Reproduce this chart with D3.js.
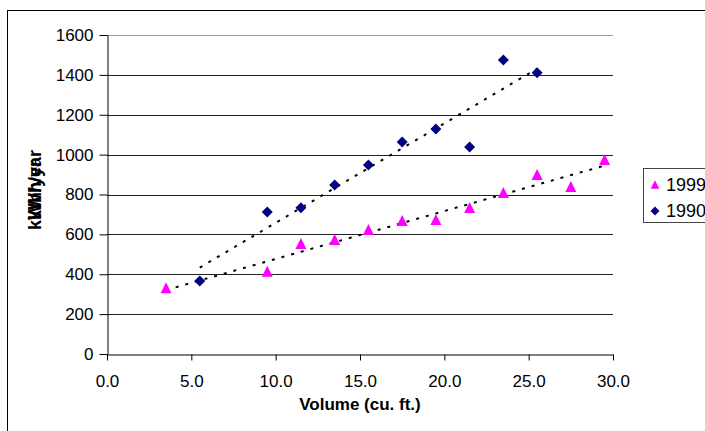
<!DOCTYPE html>
<html>
<head>
<meta charset="utf-8">
<script src="https://cdn.jsdelivr.net/npm/d3@7/dist/d3.min.js"></script>
<style>
  html, body { margin: 0; padding: 0; background: #fff; }
  svg { display: block; font-family: "Liberation Sans", Arial, sans-serif; }
</style>
</head>
<body>
<svg id="chart" width="705" height="431"></svg>
<script>
// Refrigerator energy use vs. volume, two survey years
const volume1999 = [3.5, 9.5, 11.5, 13.5, 15.5, 17.5, 19.5, 21.5, 23.5, 25.5, 27.5, 29.5];
const kwh1999    = [330, 412, 552, 572, 622, 667, 672, 732, 807, 898, 837, 973];
const volume1990 = [5.5, 9.5, 11.5, 13.5, 15.5, 17.5, 19.5, 21.5, 23.5, 25.5];
const kwh1990    = [366, 712, 733, 848, 948, 1063, 1128, 1038, 1474, 1411];
const xTicks = [0, 5, 10, 15, 20, 25, 30];
const yTicks = [0, 200, 400, 600, 800, 1000, 1200, 1400, 1600];
const seriesNames = ["1999", "1990"];

const svg = d3.select("#chart");
const plot = { left: 107, right: 613, top: 35, bottom: 354 };

const x = d3.scaleLinear().domain([0, 30]).range([plot.left, plot.right]);
const y = d3.scaleLinear().domain([0, 1600]).range([plot.bottom, plot.top]);

// outer chart frame
svg.append("rect")
  .attr("x", 7.5).attr("y", 10.5)
  .attr("width", 720).attr("height", 440)
  .attr("fill", "none").attr("stroke", "#000").attr("stroke-width", 1);

// horizontal gridlines
svg.append("g")
  .selectAll("line")
  .data(yTicks.filter(d => d > 0))
  .join("line")
  .attr("x1", plot.left).attr("x2", plot.right)
  .attr("y1", d => Math.round(y(d)) + 0.5).attr("y2", d => Math.round(y(d)) + 0.5)
  .attr("stroke", d => d === 1600 ? "#999" : "#222")
  .attr("stroke-width", 1);

// y axis
const yAxis = svg.append("g")
  .attr("transform", `translate(${plot.left + 0.5},0)`)
  .call(d3.axisLeft(y).tickValues(yTicks).tickFormat(d3.format("d"))
    .tickSize(8).tickPadding(6).tickSizeOuter(0));
yAxis.selectAll("text").attr("font-size", 17).attr("fill", "#000")
  .attr("font-family", "Liberation Sans, Arial, sans-serif");
yAxis.selectAll("line, path").attr("stroke", "#000");

// x axis
const xAxis = svg.append("g")
  .attr("transform", `translate(0,${plot.bottom + 0.5})`)
  .call(d3.axisBottom(x).tickValues(xTicks).tickFormat(d3.format(".1f"))
    .tickSize(6).tickPadding(14).tickSizeOuter(0));
xAxis.selectAll("text").attr("font-size", 17).attr("fill", "#000")
  .attr("font-family", "Liberation Sans, Arial, sans-serif");
xAxis.selectAll("line, path").attr("stroke", "#000");

// axis titles
svg.append("text")
  .attr("x", (plot.left + plot.right) / 2).attr("y", 410)
  .attr("text-anchor", "middle")
  .attr("font-size", 17).attr("font-weight", "bold")
  .text("Volume (cu. ft.)");

// two overprinted y titles
["kWh/year", "kWh/yr"].forEach(t => {
  svg.append("text")
    .attr("transform", "translate(41,190) rotate(-90)")
    .attr("text-anchor", "middle")
    .attr("font-size", 18).attr("font-weight", "bold")
    .text(t);
});

// least-squares trendline through a series
function fit(xs, ys) {
  const mx = d3.mean(xs), my = d3.mean(ys);
  const sxy = d3.sum(xs, (v, i) => (v - mx) * (ys[i] - my));
  const sxx = d3.sum(xs, v => (v - mx) ** 2);
  const b = sxy / sxx;
  return v => my + b * (v - mx);
}

function trend(xs, ys) {
  const f = fit(xs, ys);
  const x0 = d3.min(xs), x1 = d3.max(xs);
  svg.append("line")
    .attr("x1", x(x0)).attr("y1", y(f(x0)))
    .attr("x2", x(x1)).attr("y2", y(f(x1)))
    .attr("stroke", "#000").attr("stroke-width", 2)
    .attr("stroke-dasharray", "3,7");
}

trend(volume1990, kwh1990);
trend(volume1999, kwh1999);

// marker shapes
const triPath = s => `M0,${-s * 1.1}L${s},${s * 0.9}L${-s},${s * 0.9}Z`;
const diaPath = s => `M0,${-s}L${s},0L0,${s}L${-s},0Z`;

svg.append("g").selectAll("path")
  .data(volume1990.map((v, i) => [v, kwh1990[i]]))
  .join("path")
  .attr("transform", d => `translate(${x(d[0])},${y(d[1])})`)
  .attr("d", diaPath(5.5))
  .attr("fill", "#000080");

svg.append("g").selectAll("path")
  .data(volume1999.map((v, i) => [v, kwh1999[i]]))
  .join("path")
  .attr("transform", d => `translate(${x(d[0])},${y(d[1])})`)
  .attr("d", triPath(5.5))
  .attr("fill", "#FF00FF");

// legend
const legend = svg.append("g");
legend.append("rect")
  .attr("x", 643.5).attr("y", 168.5).attr("width", 80).attr("height", 54)
  .attr("fill", "#fff").attr("stroke", "#444").attr("stroke-width", 1);
const legendRows = [
  { name: seriesNames[0], cy: 185, shape: triPath(4.3), color: "#FF00FF" },
  { name: seriesNames[1], cy: 211, shape: diaPath(4.5), color: "#000080" }
];
legendRows.forEach(r => {
  legend.append("path")
    .attr("transform", `translate(655,${r.cy})`)
    .attr("d", r.shape).attr("fill", r.color);
  legend.append("text")
    .attr("x", 666).attr("y", r.cy + 6)
    .attr("font-size", 18).text(r.name);
});
</script>
</body>
</html>
